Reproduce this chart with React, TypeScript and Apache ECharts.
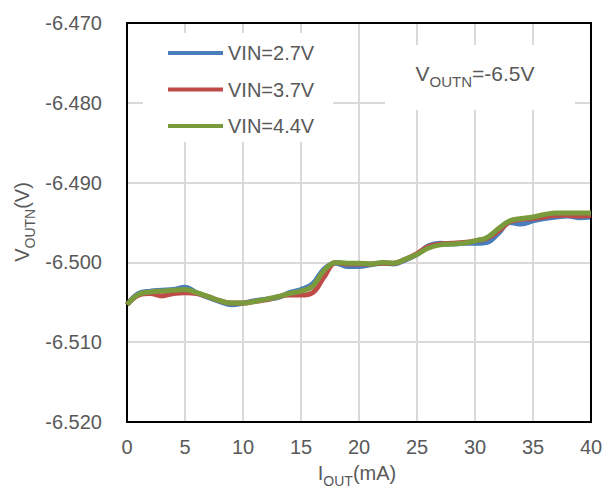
import React, { useEffect, useRef } from "react";
import * as echarts from "echarts";

const currents = [
  0, 1, 2, 3, 4, 5, 6, 7, 8, 9, 10, 11, 12, 13, 14, 15, 16, 17, 18, 19, 20,
  21, 22, 23, 24, 25, 26, 27, 28, 29, 30, 31, 32, 33, 34, 35, 36, 37, 38, 39, 40,
];

const vin27 = [
  -6.5053, -6.5039, -6.5036, -6.5035, -6.5034, -6.5031, -6.5038, -6.5044, -6.5049, -6.5053,
  -6.5051, -6.5048, -6.5046, -6.5044, -6.5038, -6.5034, -6.5027, -6.5008, -6.5001, -6.5005,
  -6.5005, -6.5003, -6.5001, -6.5002, -6.4997, -6.499, -6.4979, -6.4976, -6.4977, -6.4976,
  -6.4976, -6.4975, -6.4964, -6.495, -6.4952, -6.4948, -6.4945, -6.4943, -6.4942, -6.4944,
  -6.4943,
];

const vin37 = [
  -6.5053, -6.5041, -6.5039, -6.5042, -6.5039, -6.5038, -6.5039, -6.5043, -6.5048, -6.5051,
  -6.5051, -6.5049, -6.5047, -6.5043, -6.5041, -6.5041, -6.5038, -6.5018, -6.5, -6.5002,
  -6.5002, -6.5002, -6.5001, -6.5001, -6.4996, -6.4989, -6.498, -6.4977, -6.4976, -6.4975,
  -6.4973, -6.497, -6.4961, -6.4949, -6.4946, -6.4945, -6.4943, -6.4941, -6.4941, -6.4942,
  -6.4941,
];

const vin44 = [
  -6.5053, -6.504, -6.5037, -6.5036, -6.5035, -6.5034, -6.5038, -6.5043, -6.5048, -6.5051,
  -6.5051, -6.5049, -6.5046, -6.5043, -6.5039, -6.5036, -6.503, -6.501, -6.5, -6.5001,
  -6.5001, -6.5002, -6.5, -6.5001, -6.4996, -6.499, -6.4982, -6.4978, -6.4977, -6.4976,
  -6.4973, -6.4969, -6.4958, -6.4948, -6.4945, -6.4943, -6.494, -6.4938, -6.4938, -6.4938,
  -6.4938,
];

const seriesNames = ["VIN=2.7V", "VIN=3.7V", "VIN=4.4V"];
const seriesColors = ["#4a7ebb", "#be4b48", "#7a9b3c"];
const seriesData = [vin27, vin37, vin44];

const FONT = "'Liberation Sans', Arial, sans-serif";
const TEXT = "#595959";

export default function App() {
  const ref = useRef<HTMLDivElement>(null);

  useEffect(() => {
    if (!ref.current) return;
    const chart = echarts.init(ref.current, undefined, { renderer: "svg" });

    const series = seriesData.map((vals, i) => ({
      name: seriesNames[i],
      type: "line",
      data: currents.map((c, j) => [c, vals[j]]),
      smooth: 0.4,
      symbol: "none",
      lineStyle: { color: seriesColors[i], width: 5 },
      itemStyle: { color: seriesColors[i] },
      z: 3 + i,
    }));

    chart.setOption({
      animation: false,
      backgroundColor: "#ffffff",
      textStyle: { fontFamily: FONT },
      grid: {
        left: 127,
        right: 19,
        top: 23,
        bottom: 67,
        show: true,
        borderColor: "#000000",
        borderWidth: 2,
        z: 4,
      },
      legend: {
        orient: "vertical",
        left: 143,
        top: 33,
        data: seriesNames,
        icon: "rect",
        itemWidth: 55,
        itemHeight: 4,
        itemGap: 16.5,
        padding: [10, 19, 6, 25],
        backgroundColor: "#ffffff",
        textStyle: { color: TEXT, fontSize: 20, fontFamily: FONT },
      },
      xAxis: {
        type: "value",
        min: 0,
        max: 40,
        interval: 5,
        axisLine: { show: true, lineStyle: { color: "#000000", width: 2 } },
        axisTick: { show: false },
        splitLine: { show: true, lineStyle: { color: "#d9d9d9", width: 2 } },
        axisLabel: { color: TEXT, fontSize: 20, fontFamily: FONT, margin: 15 },
      },
      yAxis: {
        type: "value",
        min: -6.52,
        max: -6.47,
        interval: 0.01,
        axisLine: { show: true, lineStyle: { color: "#000000", width: 2 } },
        axisTick: { show: false },
        splitLine: { show: true, lineStyle: { color: "#d9d9d9", width: 2 } },
        axisLabel: {
          color: TEXT,
          fontSize: 20,
          fontFamily: FONT,
          margin: 25,
          formatter: (v: number) => v.toFixed(3),
        },
      },
      graphic: [
        {
          type: "rect",
          shape: { x: 385, y: 45, width: 190, height: 65 },
          style: { fill: "#ffffff" },
          z: 5,
        },
        {
          type: "text",
          x: 475,
          y: 76,
          z: 6,
          style: {
            text: "{a|V}{b|OUTN}{a|=-6.5V}",
            align: "center",
            verticalAlign: "middle",
            fill: TEXT,
            rich: {
              a: { fontSize: 21, fontFamily: FONT, fill: TEXT, padding: [0, 0, 5, 0], verticalAlign: "bottom" },
              b: { fontSize: 15, fontFamily: FONT, fill: TEXT, verticalAlign: "bottom" },
            },
          },
        },
        {
          type: "text",
          x: 24,
          y: 222,
          rotation: Math.PI / 2,
          z: 6,
          style: {
            text: "{a|V}{b|OUTN}{a|(V)}",
            align: "center",
            verticalAlign: "middle",
            fill: TEXT,
            rich: {
              a: { fontSize: 20, fontFamily: FONT, fill: TEXT, padding: [0, 0, 5, 0], verticalAlign: "bottom" },
              b: { fontSize: 14, fontFamily: FONT, fill: TEXT, verticalAlign: "bottom" },
            },
          },
        },
        {
          type: "text",
          x: 357,
          y: 475,
          z: 6,
          style: {
            text: "{a|I}{b|OUT}{a|(mA)}",
            align: "center",
            verticalAlign: "middle",
            fill: TEXT,
            rich: {
              a: { fontSize: 20, fontFamily: FONT, fill: TEXT, padding: [0, 0, 5, 0], verticalAlign: "bottom" },
              b: { fontSize: 14, fontFamily: FONT, fill: TEXT, verticalAlign: "bottom" },
            },
          },
        },
      ],
      series,
    });

    return () => chart.dispose();
  }, []);

  return <div ref={ref} style={{ width: 610, height: 489, position: "absolute", left: 0, top: 0 }} />;
}
